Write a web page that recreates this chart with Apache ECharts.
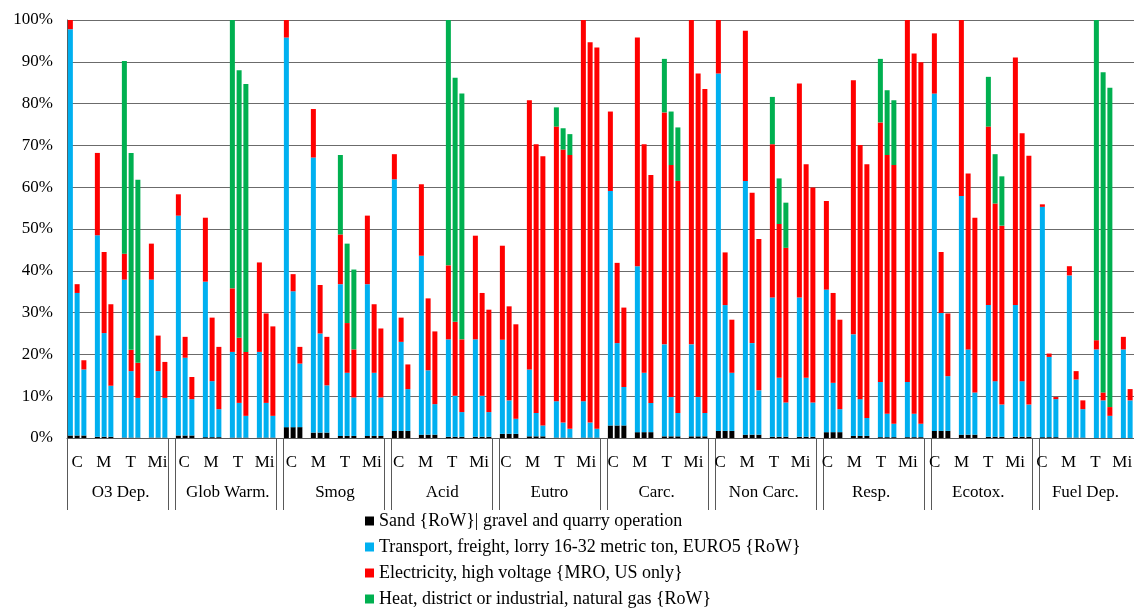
<!DOCTYPE html>
<html>
<head>
<meta charset="utf-8">
<script src="https://cdn.jsdelivr.net/npm/echarts@6/dist/echarts.min.js"></script>
<style>
html,body{margin:0;padding:0;background:#fff;}
#chart{width:1134px;height:613px;}
</style>
</head>
<body>
<div id="chart"></div>
<script>
// ---- data ----
const groups = ['O3 Dep.', 'Glob Warm.', 'Smog', 'Acid', 'Eutro', 'Carc.', 'Non Carc.', 'Resp.', 'Ecotox.', 'Fuel Dep.'];
const subCats = ['C', 'M', 'T', 'Mi'];
const seriesNames = [
  'Sand {RoW}| gravel and quarry operation',
  'Transport, freight, lorry 16-32 metric ton, EURO5 {RoW}',
  'Electricity, high voltage {MRO, US only}',
  'Heat, district or industrial, natural gas {RoW}'
];
// each row = one impact group; 12 bars: C1..C3, M1..M3, T1..T3, Mi1..Mi3 (percent)
const sand = [
  [0.6,0.6,0.6, 0.3,0.3,0.3, 0.1,0.1,0.1, 0.1,0.1,0.1],
  [0.6,0.6,0.6, 0.2,0.2,0.2, 0.1,0.1,0.1, 0.1,0.1,0.1],
  [2.6,2.6,2.6, 1.3,1.3,1.3, 0.5,0.5,0.5, 0.5,0.5,0.5],
  [1.7,1.7,1.7, 0.8,0.8,0.8, 0.3,0.3,0.3, 0.3,0.3,0.3],
  [1.0,1.0,1.0, 0.4,0.4,0.4, 0.1,0.1,0.1, 0.1,0.1,0.1],
  [3.0,3.0,3.0, 1.4,1.4,1.4, 0.4,0.4,0.4, 0.4,0.4,0.4],
  [1.7,1.7,1.7, 0.8,0.8,0.8, 0.3,0.3,0.3, 0.3,0.3,0.3],
  [1.4,1.4,1.4, 0.5,0.5,0.5, 0.2,0.2,0.2, 0.2,0.2,0.2],
  [1.7,1.7,1.7, 0.8,0.8,0.8, 0.3,0.3,0.3, 0.3,0.3,0.3],
  [0.2,0.2,0.2, 0.1,0.1,0.1, 0.0,0.0,0.0, 0.0,0.0,0.0]
];
const transport = [
  [97.2,34.1,15.8, 48.2,24.8,12.2, 37.8,15.9,9.5, 37.8,15.9,9.5],
  [52.6,18.6,8.7, 37.2,13.4,6.7, 20.5,8.3,5.2, 20.5,8.3,5.2],
  [93.2,32.5,15.2, 65.8,23.7,11.3, 36.3,15.1,9.2, 36.3,15.1,9.2],
  [60.2,21.3,10.0, 42.8,15.4,7.3, 23.3,9.8,5.9, 23.3,9.8,5.9],
  [22.5,8.0,3.6, 16.0,5.6,2.6, 8.7,3.6,2.1, 8.7,3.6,2.1],
  [56.1,19.7,9.2, 39.7,14.2,7.0, 22.0,9.4,5.6, 22.0,9.4,5.6],
  [85.5,30.1,13.9, 60.7,21.9,10.6, 33.3,14.1,8.2, 33.3,14.1,8.2],
  [34.1,11.8,5.5, 24.3,8.8,4.3, 13.2,5.6,3.2, 13.2,5.6,3.2],
  [80.7,28.2,13.1, 57.1,20.4,10.1, 31.5,13.3,7.7, 31.5,13.3,7.7],
  [55.1,19.2,9.1, 38.8,13.9,6.8, 21.2,9.0,5.3, 21.2,9.0,5.3]
];
const electricity = [
  [2.2,2.1,2.2, 19.7,19.4,19.5, 6.2,5.1,8.4, 8.6,8.5,8.6],
  [5.1,5.0,5.3, 15.3,15.2,14.9, 15.2,15.6,15.3, 21.4,21.4,21.4],
  [4.2,4.1,4.0, 11.6,11.6,11.6, 11.9,11.9,11.5, 16.4,16.4,16.5],
  [6.0,5.8,5.9, 17.1,17.2,17.4, 17.7,17.7,17.4, 24.8,24.6,24.5],
  [22.5,22.5,22.6, 64.4,64.3,64.4, 65.7,65.3,65.5, 91.2,91.0,91.2],
  [19.0,19.2,19.0, 54.7,54.7,54.5, 55.5,55.5,55.5, 77.6,77.4,77.5],
  [12.8,12.6,12.7, 35.9,36.0,36.2, 36.7,36.8,37.0, 51.2,51.1,51.4],
  [21.2,21.5,21.4, 60.8,60.8,60.7, 62.1,61.9,61.9, 86.6,86.2,86.5],
  [14.4,14.6,15.0, 42.1,42.1,41.8, 42.7,42.5,42.8, 59.2,59.3,59.5],
  [0.6,0.8,0.5, 2.2,2.0,2.1, 2.2,1.9,2.1, 3.0,2.7,2.5]
];
const heat = [
  [0,0,0, 0,0,0, 46.1,47.1,43.8, 0,0,0],
  [0,0,0, 0,0,0, 64.2,64.0,64.1, 0,0,0],
  [0,0,0, 0,0,0, 19.0,19.0,19.1, 0,0,0],
  [0,0,0, 0,0,0, 58.7,58.4,58.8, 0,0,0],
  [0,0,0, 0,0,0, 4.6,5.1,5.0, 0,0,0],
  [0,0,0, 0,0,0, 12.8,12.8,12.8, 0,0,0],
  [0,0,0, 0,0,0, 11.3,10.9,10.8, 0,0,0],
  [0,0,0, 0,0,0, 15.2,15.5,15.5, 0,0,0],
  [0,0,0, 0,0,0, 11.9,11.8,11.8, 0,0,0],
  [0,0,0, 0,0,0, 76.6,76.6,76.4, 0,0,0]
];
const colors = ['#000000', '#00B0F0', '#FF0000', '#00B050'];

// ---- build slot layout: per sub-category 3 bars + 1 empty slot ----
const slotIds = [];
const slotLabel = {};
const slotPos = []; // [g, k] or null for gap
groups.forEach((g, gi) => {
  subCats.forEach((s, si) => {
    for (let b = 0; b < 3; b++) {
      const id = gi + '-' + si + '-' + b;
      slotIds.push(id);
      slotLabel[id] = b === 1 ? s : '';
      slotPos.push([gi, si * 3 + b]);
    }
    const gid = gi + '-' + si + '-gap';
    slotIds.push(gid);
    slotLabel[gid] = '';
    slotPos.push(null);
  });
});
function slots(arr) {
  return slotPos.map(p => p ? (arr[p[0]][p[1]] || null) : null);
}
const dataSets = [sand, transport, electricity, heat];
const FONT = "'Liberation Serif', 'Times New Roman', serif";

const chart = echarts.init(document.getElementById('chart'), null, {renderer: 'canvas'});
chart.setOption({
  animation: false,
  color: colors,
  textStyle: {fontFamily: FONT},
  grid: [
    {left: 67, right: -13, top: 20, bottom: 175, containLabel: false, outerBoundsMode: 'none'},
    // label band (category text sits slightly tighter than the bars, as in the source)
    {left: 67, width: 1072, top: 20, bottom: 175, containLabel: false, outerBoundsMode: 'none', show: false}
  ],
  legend: {
    orient: 'vertical',
    left: 365,
    top: 512,
    padding: 0,
    itemWidth: 9,
    itemHeight: 9,
    itemGap: 8,
    icon: 'rect',
    selectedMode: false,
    textStyle: {fontFamily: FONT, fontSize: 18, color: '#000'},
    data: seriesNames
  },
  xAxis: [
    {
      type: 'category',
      gridIndex: 0,
      data: slotIds,
      axisLine: {show: true, lineStyle: {color: '#595959', width: 1}},
      axisTick: {
        show: true,
        length: 72,
        interval: function (i) { const m = i % 16; return m === 0 || m === 15; },
        lineStyle: {color: '#595959', width: 1}
      },
      axisLabel: {show: false},
      splitLine: {show: false}
    },
    {
      type: 'category',
      gridIndex: 1,
      data: slotIds,
      position: 'bottom',
      axisLine: {show: false},
      axisTick: {show: false},
      axisLabel: {
        show: true,
        interval: function (i) { const m = i % 16; return m === 1 || m === 5 || m === 9 || m === 13; },
        formatter: function (v) { return slotLabel[v]; },
        fontFamily: FONT, fontSize: 17, color: '#000', margin: 16
      }
    },
    {
      type: 'category',
      gridIndex: 1,
      data: groups,
      position: 'bottom',
      axisLine: {show: false},
      axisTick: {show: false},
      axisLabel: {fontFamily: FONT, fontSize: 17, color: '#000', margin: 46, interval: 0}
    }
  ],
  yAxis: [
    {
      type: 'value',
      gridIndex: 0,
      min: 0,
      max: 100,
      interval: 10,
      axisLine: {show: true, lineStyle: {color: '#595959'}},
      axisTick: {show: false},
      axisLabel: {formatter: '{value}%', fontFamily: FONT, fontSize: 17, color: '#000', margin: 14},
      splitLine: {show: true, lineStyle: {color: '#6b6b6b', width: 1}}
    },
    {
      type: 'value',
      gridIndex: 1,
      min: 0,
      max: 100,
      interval: 10,
      show: false
    }
  ],
  series: seriesNames.map((name, i) => ({
    name: name,
    type: 'bar',
    stack: 'total',
    xAxisIndex: 0,
    yAxisIndex: 0,
    barWidth: 5,
    itemStyle: {color: colors[i]},
    data: slots(dataSets[i])
  }))
});
</script>
</body>
</html>
